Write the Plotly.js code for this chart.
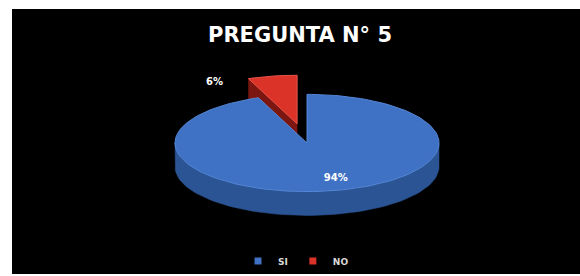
<!DOCTYPE html>
<html><head><meta charset="utf-8">
<script src="https://cdn.plot.ly/plotly-3.0.1.min.js"></script>
<style>html,body{margin:0;padding:0;background:#fff}#chart{width:580px;height:276px}</style>
</head><body><div id="chart"></div>
<script>
// ---- data ----
const categories = ['SI', 'NO'];
const values = [94, 6];
const chartTitle = 'PREGUNTA N° 5';

// ---- style ----
const topColors = ['#3f72c4', '#dc3328'];
const wallColors = ['#2b5494', '#7c1611'];
const rimColors = ['#5487d6', '#e8554b'];
const explode = [0, 0.4];
const labelR = [0.68, 1.2];
const labelDx = [12, -53];
const labelDy = [3, 16];

// geometry of the tilted pie (pixel-like axis units)
const cx = 307, cy = 144, rx = 132, ry = 49, depth = 24;
const total = values.reduce((a, b) => a + b, 0);

function rad(t) { return t * Math.PI / 180; }
function pt(t, r, ox, oy, dz) {
  return [cx + ox + rx * r * Math.sin(rad(t)), cy + oy - ry * r * Math.cos(rad(t)) + (dz || 0)];
}
function poly(points, fill, line) {
  return {
    type: 'scatter', mode: 'lines', fill: 'toself',
    x: points.map(p => p[0]), y: points.map(p => p[1]),
    fillcolor: fill, line: {color: line || fill, width: line ? 1 : 0.5},
    showlegend: false, hoverinfo: 'skip'
  };
}

let start = 0;
const slices = values.map((v, i) => {
  const sweep = v / total * 360;
  const s = {i, a0: start, a1: start + sweep, mid: start + sweep / 2};
  s.ox = rx * explode[i] * Math.sin(rad(s.mid));
  s.oy = -ry * explode[i] * Math.cos(rad(s.mid));
  start += sweep;
  return s;
});

const traces = [];
// back-to-front: draw slices in reverse (small exploded slice sits at the back)
[...slices].reverse().forEach(s => {
  const {i, a0, a1, ox, oy} = s;
  // cut faces
  const faces = [];
  if (Math.sin(rad(a0)) < -1e-6) faces.push(a0);
  if (Math.sin(rad(a1)) > 1e-6) faces.push(a1);
  faces.forEach(a => {
    const c0 = [cx + ox, cy + oy];
    const r0 = pt(a, 1, ox, oy, 0);
    const r1 = pt(a, 1, ox, oy, depth);
    traces.push(poly([c0, r0, r1, [c0[0], c0[1] + depth], c0], wallColors[i]));
  });
  // outer wall (front half)
  const w0 = Math.max(a0, 90), w1 = Math.min(a1, 270);
  if (w1 > w0) {
    const upper = [], lower = [];
    for (let k = 0; k <= 80; k++) {
      const t = w0 + (w1 - w0) * k / 80;
      upper.push(pt(t, 1, ox, oy, 0));
      lower.push(pt(t, 1, ox, oy, depth));
    }
    traces.push(poly([...upper, ...lower.reverse(), upper[0]], wallColors[i]));
  }
  // top face
  const top = [[cx + ox, cy + oy]];
  const n = Math.max(4, Math.ceil((a1 - a0) / 2));
  for (let k = 0; k <= n; k++) top.push(pt(a0 + (a1 - a0) * k / n, 1, ox, oy, 0));
  top.push([cx + ox, cy + oy]);
  traces.push(poly(top, topColors[i], rimColors[i]));
});

// percentage labels
const lx = [], ly = [], lt = [];
slices.forEach(s => {
  const p = pt(s.mid, labelR[s.i], s.ox, s.oy, 0);
  lx.push(p[0] + labelDx[s.i]); ly.push(p[1] + labelDy[s.i]);
  lt.push(Math.round(values[s.i] / total * 100) + '%');
});
traces.push({
  type: 'scatter', mode: 'text', x: lx, y: ly, text: lt,
  textfont: {family: 'DejaVu Sans', size: 10, color: '#ffffff', weight: 700},
  showlegend: false, hoverinfo: 'skip'
});

// legend entries
categories.forEach((c, i) => {
  traces.push({
    type: 'scatter', mode: 'markers', x: [null], y: [null], name: c,
    marker: {symbol: 'square', size: 7, color: topColors[i]},
    hoverinfo: 'skip'
  });
});

const layout = {
  width: 580, height: 276,
  margin: {l: 12, r: 0, t: 9, b: 0, pad: 0},
  paper_bgcolor: '#ffffff', plot_bgcolor: '#000000',
  title: {
    text: chartTitle, x: 300 / 580, xanchor: 'center', xref: 'container',
    y: 1 - 35 / 276, yanchor: 'middle', yref: 'container',
    font: {family: 'DejaVu Sans', size: 21, color: '#ffffff', weight: 700}
  },
  xaxis: {range: [12, 580], visible: false, fixedrange: true},
  yaxis: {range: [276, 9], visible: false, fixedrange: true},
  showlegend: true,
  legend: {
    orientation: 'h', x: (296 - 12) / 568, xanchor: 'center',
    y: (276 - 263) / 267, yanchor: 'middle',
    bgcolor: 'rgba(0,0,0,0)', itemwidth: 30,
    font: {family: 'DejaVu Sans', size: 9, color: '#d8d8d8', weight: 700}
  }
};

Plotly.newPlot('chart', traces, layout, {displayModeBar: false, staticPlot: true});
</script>
</body></html>
